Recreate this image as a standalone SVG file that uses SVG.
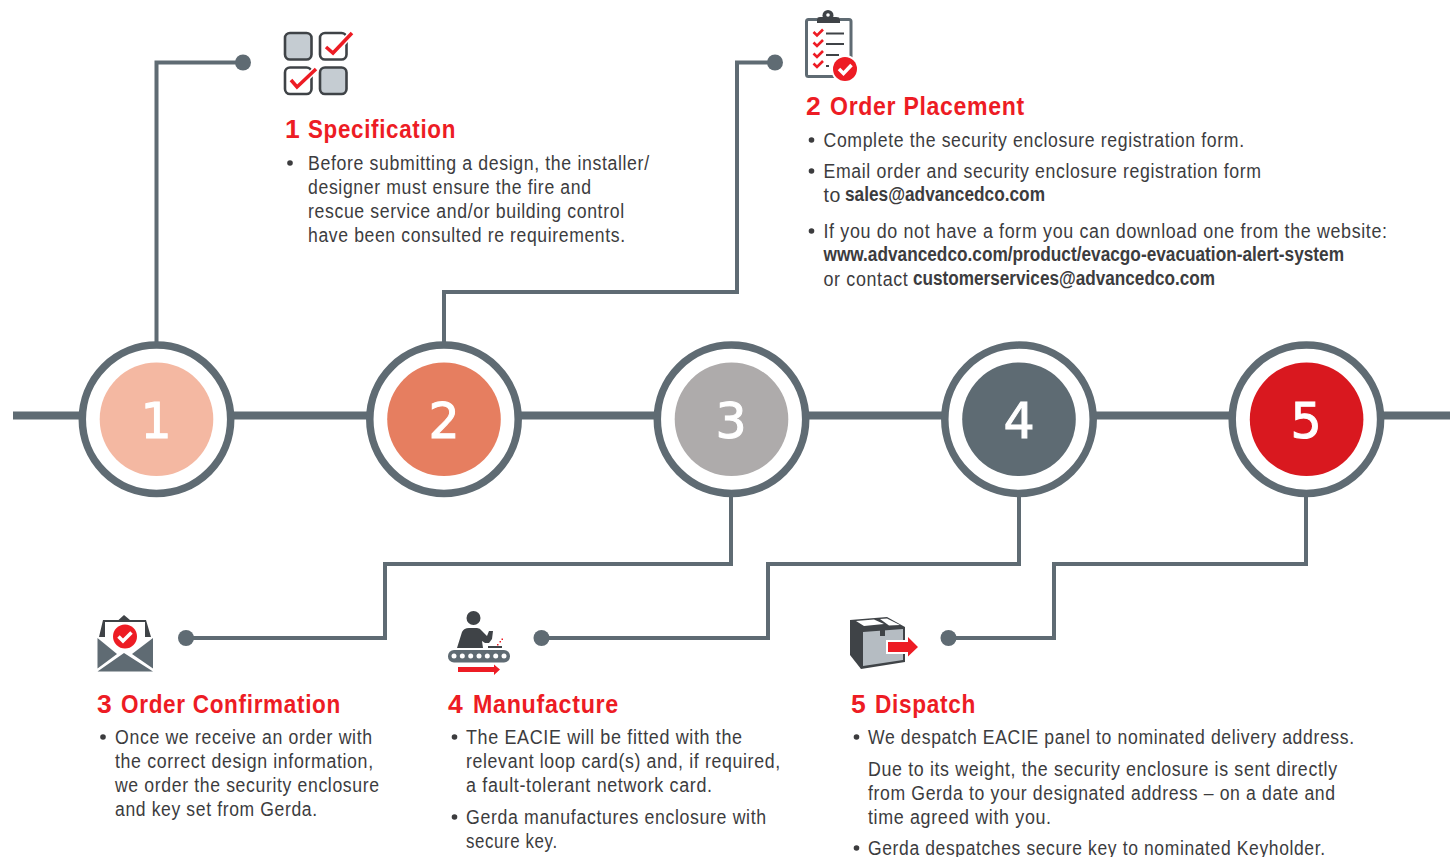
<svg xmlns="http://www.w3.org/2000/svg" width="1456" height="857" viewBox="0 0 1456 857">
<style>
text{font-family:"Liberation Sans",Arial,sans-serif}
.t{font-size:19.500px;fill:#3c3c3e;letter-spacing:.7px;transform:translateY(-.5px)}
.b{font-weight:700;font-size:20px;letter-spacing:0;transform:translateY(-1px)}
.h{font-size:26.500px;font-weight:700;fill:#ed1c24;letter-spacing:.8px;transform:translateY(-.5px)}
.n{font-family:"DejaVu Sans",sans-serif;font-size:49px;fill:#fff;stroke:#fff;stroke-width:1;text-anchor:middle}
.c{fill:none;stroke:#5f6b73;stroke-width:4}
.d{fill:#5f6b73}
.r{fill:#fff;stroke:#5f6b73;stroke-width:7.500}
.ck{fill:none;stroke:#ed1c24;stroke-width:3.500}
.wk{fill:none;stroke:#fff;stroke-width:3.500}
.bx{stroke:#3f4347;stroke-width:2.600}
.u{fill:#3c3c3e}
</style>
<rect width="1456" height="857" fill="#fff"/>
<g id="connectors">
<path d="M13 415.500H1450" fill="none" stroke="#5f6b73" stroke-width="8"/>
<path class="c" d="M156.500 345V62.500H243"/><circle class="d" cx="243" cy="62.500" r="8"/>
<path class="c" d="M444 345V292H737V62.500H775"/><circle class="d" cx="775" cy="62.500" r="8"/>
<path class="c" d="M731 494V564H385V638H186"/><circle class="d" cx="186" cy="638" r="8"/>
<path class="c" d="M1019 494V564H768V638H541"/><circle class="d" cx="541.500" cy="638" r="8"/>
<path class="c" d="M1306 494V564H1054V638H948"/><circle class="d" cx="948.500" cy="638" r="8"/>
</g>
<g id="circle-1"><circle class="r" cx="156.500" cy="419.300" r="74.200"/><circle cx="156.500" cy="419.300" r="56.800" fill="#f4b8a2"/><text class="n" x="156" y="438">1</text></g>
<g id="circle-2"><circle class="r" cx="444" cy="419.300" r="74.200"/><circle cx="444" cy="419.300" r="56.800" fill="#e67e60"/><text class="n" x="444" y="438">2</text></g>
<g id="circle-3"><circle class="r" cx="731.500" cy="419.300" r="74.200"/><circle cx="731.500" cy="419.300" r="56.800" fill="#aeabab"/><text class="n" x="731" y="438">3</text></g>
<g id="circle-4"><circle class="r" cx="1019" cy="419.300" r="74.200"/><circle cx="1019" cy="419.300" r="56.800" fill="#5e6b73"/><text class="n" x="1019" y="438">4</text></g>
<g id="circle-5"><circle class="r" cx="1306.400" cy="419.300" r="74.200"/><circle cx="1306.600" cy="419.300" r="56.800" fill="#d9181f"/><text class="n" x="1306" y="438">5</text></g>

<g id="step-1">
<g id="icon-1">
<rect class="bx" x="285" y="33" width="26.500" height="26.500" rx="5" fill="#c5ccd2"/>
<rect class="bx" x="320" y="33" width="26.500" height="26.500" rx="5" fill="#fff"/>
<rect class="bx" x="285" y="67.500" width="26.500" height="26.500" rx="5" fill="#fff"/>
<rect class="bx" x="320" y="67.500" width="26.500" height="26.500" rx="5" fill="#c5ccd2"/>
<path d="M326 47L333 53L352 33M291 80L297 87L316 69" fill="none" stroke="#fff" stroke-width="6.500"/>
<path class="ck" d="M326 47L333 53L352 33M291 80L297 87L316 69"/>
</g>
<text class="h" x="285" y="138">1</text><text class="h" x="308" y="138" textLength="148" lengthAdjust="spacingAndGlyphs">Specification</text>
<circle class="u" cx="290" cy="163" r="2.800"/>
<text class="t" x="308" y="170" textLength="341.700" lengthAdjust="spacingAndGlyphs">Before submitting a design, the installer/</text>
<text class="t" x="308" y="194" textLength="283.700" lengthAdjust="spacingAndGlyphs">designer must ensure the fire and</text>
<text class="t" x="308" y="218" textLength="316.700" lengthAdjust="spacingAndGlyphs">rescue service and/or building control</text>
<text class="t" x="308" y="242" textLength="317.700" lengthAdjust="spacingAndGlyphs">have been consulted re requirements.</text>
</g>

<g id="step-2">
<g id="icon-2">
<path d="M817 19.500H808.500Q806.500 19.500 806.500 21.500V74.500Q806.500 76.500 808.500 76.500H834" fill="none" stroke="#5f6b73" stroke-width="3"/>
<path d="M840 19.500H849Q851 19.500 851 21.500V58" fill="none" stroke="#5f6b73" stroke-width="3"/>
<path d="M817 23V19Q817 17 820 17H836Q840 17 840 19V23Z" fill="#3f4347"/><circle cx="828" cy="15.500" r="5.500" fill="#3f4347"/><circle cx="828" cy="15" r="1.800" fill="#fff"/>
<path d="M813.500 32L817 35.500L823 29.500M813.500 42.500L817 46L823 40M813.500 53.500L817 57L823 51M813.500 63.500L817 67L823 61" fill="none" stroke="#ed1c24" stroke-width="2.600"/>
<path d="M826 33.500H844M826 44H844M826 55H839M826 66H829" fill="none" stroke="#3f4347" stroke-width="2"/>
<circle cx="845" cy="69" r="14" fill="#fff"/><circle cx="845" cy="69" r="12" fill="#ed1c24"/>
<path class="wk" d="M839 69L843.500 73.500L851.500 65"/>
</g>
<text class="h" x="806" y="115">2</text><text class="h" x="830" y="115" textLength="195" lengthAdjust="spacingAndGlyphs">Order Placement</text>
<circle class="u" cx="811.500" cy="140" r="2.800"/>
<text class="t" x="823.500" y="147" textLength="421.200" lengthAdjust="spacingAndGlyphs">Complete the security enclosure registration form.</text>
<circle class="u" cx="811.500" cy="171" r="2.800"/>
<text class="t" x="823.500" y="178" textLength="438.200" lengthAdjust="spacingAndGlyphs">Email order and security enclosure registration form</text>
<text class="t" x="823.500" y="202">to</text><text class="t b" x="845" y="202" textLength="200" lengthAdjust="spacingAndGlyphs">sales@advancedco.com</text>
<circle class="u" cx="811.500" cy="231" r="2.800"/>
<text class="t" x="823.500" y="238" textLength="564.200" lengthAdjust="spacingAndGlyphs">If you do not have a form you can download one from the website:</text>
<text class="t b" x="823.500" y="262" textLength="520.500" lengthAdjust="spacingAndGlyphs">www.advancedco.com/product/evacgo-evacuation-alert-system</text>
<text class="t" x="823.500" y="286" textLength="85" lengthAdjust="spacingAndGlyphs">or contact</text><text class="t b" x="913" y="286" textLength="302" lengthAdjust="spacingAndGlyphs">customerservices@advancedco.com</text>
</g>

<g id="step-3">
<g id="icon-3">
<path d="M99 637L103 620H118.500L124 615L130 620H146L151 637Z" fill="#3f4347"/>
<path d="M105 622H145V652H105Z" fill="#fff"/>
<path d="M97.500 638L117 654L97.500 668.500ZM153 638L132 654L153 668.500ZM97.500 671.500L124 653L153 671.500Z" fill="#5f6b73"/>
<circle cx="125" cy="636.500" r="12" fill="#ed1c24"/>
<path class="wk" d="M118.500 636.500L123 641L131.500 632.500"/>
</g>
<text class="h" x="97" y="713">3</text><text class="h" x="121" y="713" textLength="220" lengthAdjust="spacingAndGlyphs">Order Confirmation</text>
<circle class="u" cx="103" cy="737" r="2.800"/>
<text class="t" x="115" y="744" textLength="257.700" lengthAdjust="spacingAndGlyphs">Once we receive an order with</text>
<text class="t" x="115" y="768" textLength="258.700" lengthAdjust="spacingAndGlyphs">the correct design information,</text>
<text class="t" x="115" y="792" textLength="264.700" lengthAdjust="spacingAndGlyphs">we order the security enclosure</text>
<text class="t" x="115" y="816" textLength="202.700" lengthAdjust="spacingAndGlyphs">and key set from Gerda.</text>
</g>

<g id="step-4">
<g id="icon-4">
<circle cx="473.500" cy="618" r="7" fill="#3f4347"/>
<path d="M457 648L462 632Q464 628 469 628H477Q480 628 482 631L487 636L489 631H493L492 639L489 643H485L482 641L483 648Z" fill="#3f4347"/>
<path d="M488 646H502V648H488Z" fill="#3f4347"/>
<path d="M497 644h1.500v1.500h-1.500zM499.500 641h1.500v1.500h-1.500zM501.500 638.500h1.500v1.500h-1.500z" fill="#ed1c24"/>
<rect x="448" y="650" width="62" height="12.500" rx="6" fill="#5f6b73"/>
<g fill="#fff"><circle cx="454" cy="656" r="2.500"/><circle cx="462.300" cy="656" r="2.500"/><circle cx="470.700" cy="656" r="2.500"/><circle cx="479" cy="656" r="2.500"/><circle cx="487.300" cy="656" r="2.500"/><circle cx="495.700" cy="656" r="2.500"/><circle cx="504" cy="656" r="2.500"/></g>
<path d="M458 667H494V664.500L500 669.500L494 675V672H458Z" fill="#ed1c24"/>
</g>
<text class="h" x="448" y="713">4</text><text class="h" x="473" y="713" textLength="146" lengthAdjust="spacingAndGlyphs">Manufacture</text>
<circle class="u" cx="454.500" cy="737" r="2.800"/>
<text class="t" x="466" y="744" textLength="276.700" lengthAdjust="spacingAndGlyphs">The EACIE will be fitted with the</text>
<text class="t" x="466" y="768" textLength="314.700" lengthAdjust="spacingAndGlyphs">relevant loop card(s) and, if required,</text>
<text class="t" x="466" y="792" textLength="246.700" lengthAdjust="spacingAndGlyphs">a fault-tolerant network card.</text>
<circle class="u" cx="454.500" cy="817" r="2.800"/>
<text class="t" x="466" y="824" textLength="300.700" lengthAdjust="spacingAndGlyphs">Gerda manufactures enclosure with</text>
<text class="t" x="466" y="848" textLength="91.700" lengthAdjust="spacingAndGlyphs">secure key.</text>
</g>

<g id="step-5">
<g id="icon-5">
<path d="M850 620L887 617L905 627V662L861 669L850 655Z" fill="#3f4347"/>
<path d="M863 632L903 629V660L863 666Z" fill="#b5bcc2"/>
<path d="M856 621L874 619.500L884 624L864 626ZM880 619L887 618.500L900 625L889 625.500Z" fill="#fff"/>
<path d="M880 628H885V636H880Z" fill="#3f4347"/>
<path d="M886 640H906V635L920 647L906 659V654H886Z" fill="#fff"/>
<path d="M888 642H908V637L918 647L908 656.500V652H888Z" fill="#ed1c24"/>
</g>
<text class="h" x="851" y="713">5</text><text class="h" x="875" y="713" textLength="101" lengthAdjust="spacingAndGlyphs">Dispatch</text>
<circle class="u" cx="856.500" cy="737" r="2.800"/>
<text class="t" x="868" y="744" textLength="486.700" lengthAdjust="spacingAndGlyphs">We despatch EACIE panel to nominated delivery address.</text>
<text class="t" x="868" y="776" textLength="469.700" lengthAdjust="spacingAndGlyphs">Due to its weight, the security enclosure is sent directly</text>
<text class="t" x="868" y="800" textLength="467.700" lengthAdjust="spacingAndGlyphs">from Gerda to your designated address – on a date and</text>
<text class="t" x="868" y="824" textLength="183.700" lengthAdjust="spacingAndGlyphs">time agreed with you.</text>
<circle class="u" cx="856.500" cy="848" r="2.800"/>
<text class="t" x="868" y="855" textLength="457.700" lengthAdjust="spacingAndGlyphs">Gerda despatches secure key to nominated Keyholder.</text>
</g>
</svg>
